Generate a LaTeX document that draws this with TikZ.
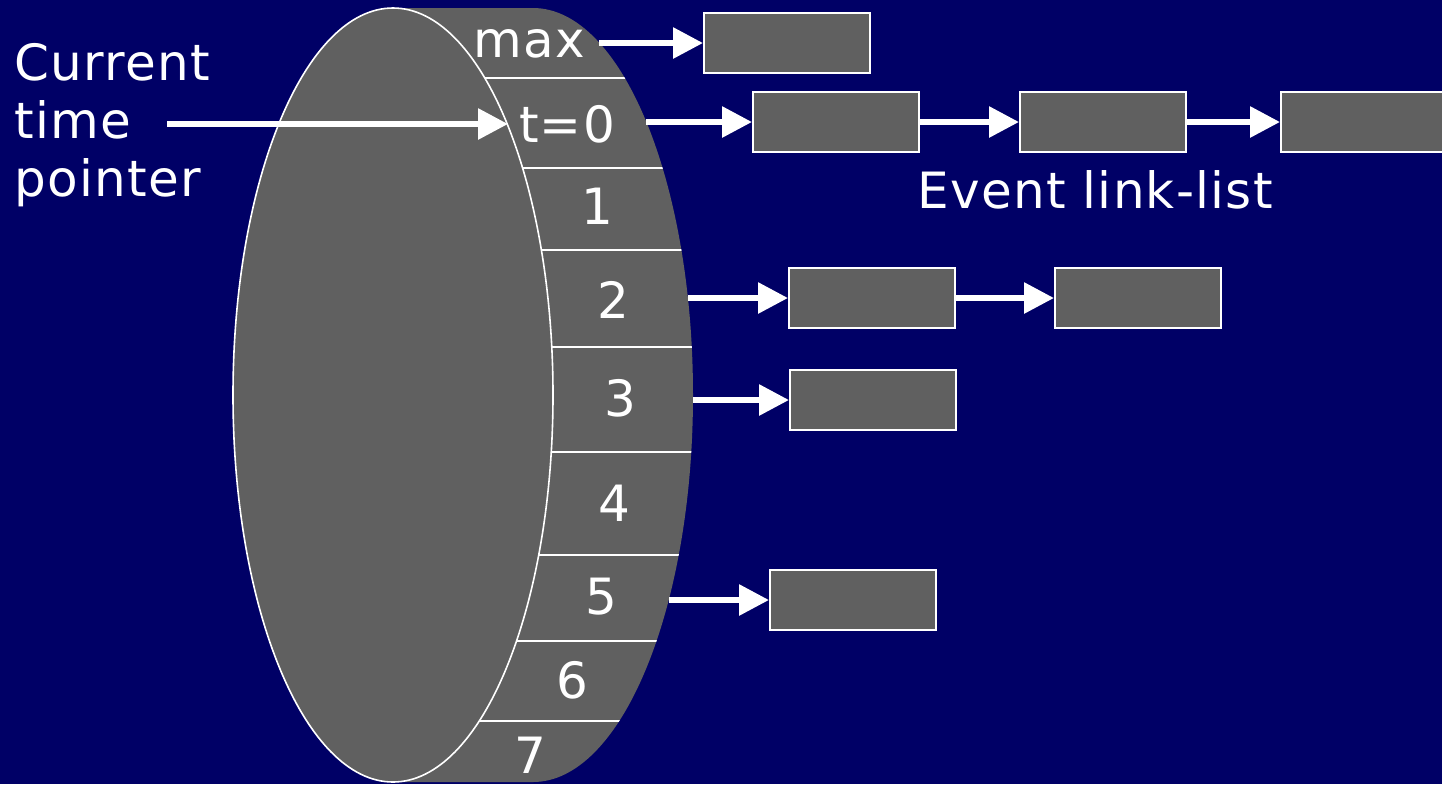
\documentclass[tikz,border=0pt]{standalone}
\usepackage{fontspec}
\setmainfont{DejaVu Sans}[LetterSpace=2.5]
\usetikzlibrary{arrows.meta}
\definecolor{bgnavy}{HTML}{000066}
\definecolor{disk}{HTML}{606060}
\begin{document}
\begin{tikzpicture}[x=0.5pt,y=-0.5pt,
  lbl/.style={text=white,font=\fontsize{25}{29}\selectfont,inner sep=0pt},
  cell/.style={draw=white,line width=1pt,fill=disk,minimum width=83pt,minimum height=30pt,inner sep=0pt},
  ptr/.style={draw=white,line width=3pt,-{Triangle[length=15pt,width=15pt]}},
  divider/.style={draw=white,line width=0.8pt}]

\useasboundingbox (0,0) rectangle (1442,784);
\fill[bgnavy] (0,0) rectangle (1442,784);
\clip (0,0) rectangle (1442,784);

% rim of the timing wheel
\def\rimpath{(393,8) -- (533,8) arc[start angle=90,end angle=-90,x radius=80pt,y radius=193.5pt] -- (393,782) -- cycle}
\fill[disk] \rimpath;
\begin{scope}
  \clip \rimpath;
  \foreach \yy in {78,168,250,347,452,555,641,721}
    \draw[divider] (380,\yy) -- (720,\yy);
\end{scope}
% front face of the wheel
\draw[white,line width=0.8pt,fill=disk] (393,395) ellipse [x radius=80pt,y radius=193.5pt];

% slot labels
\node[lbl] (smax) at (529,44) {max};
\node[lbl] (s0) at (567,124) {t=0};
\node[lbl] (s1) at (597,206) {1};
\node[lbl] (s2) at (613,300) {2};
\node[lbl] (s3) at (620,398) {3};
\node[lbl] (s4) at (614,503) {4};
\node[lbl] (s5) at (601,597) {5};
\node[lbl] (s6) at (572,680) {6};
\node[lbl] (s7) at (530,755) {7};

% exit points on the rim
\coordinate (emax) at (599,43);
\coordinate (e0) at (646,122);
\coordinate (e2) at (688,298);
\coordinate (e3) at (693,400);
\coordinate (e5) at (669,600);

% event cells
\node[cell] (bmax) at (787,43) {};
\node[cell] (b01) at (836,122) {};
\node[cell] (b02) at (1103,122) {};
\node[cell] (b03) at (1364,122) {};
\node[cell] (b21) at (872,298) {};
\node[cell] (b22) at (1138,298) {};
\node[cell] (b31) at (873,400) {};
\node[cell] (b51) at (853,600) {};

\draw[ptr] (emax) -- (bmax.west);
\draw[ptr] (e0) -- (b01.west);
\draw[ptr] (b01.east) -- (b02.west);
\draw[ptr] (b02.east) -- (b03.west);
\draw[ptr] (e2) -- (b21.west);
\draw[ptr] (b21.east) -- (b22.west);
\draw[ptr] (e3) -- (b31.west);
\draw[ptr] (e5) -- (b51.west);

\node[lbl] (evt) at (1095,190) {Event link-list};

% current time pointer
\node[lbl,align=left,anchor=north west] (cur) at (14,43) {Current\\time\\pointer};
\coordinate (tail) at (167,124);
\coordinate (slot0) at (508,124);
\draw[ptr] (tail) -- (slot0);
\end{tikzpicture}
\end{document}
